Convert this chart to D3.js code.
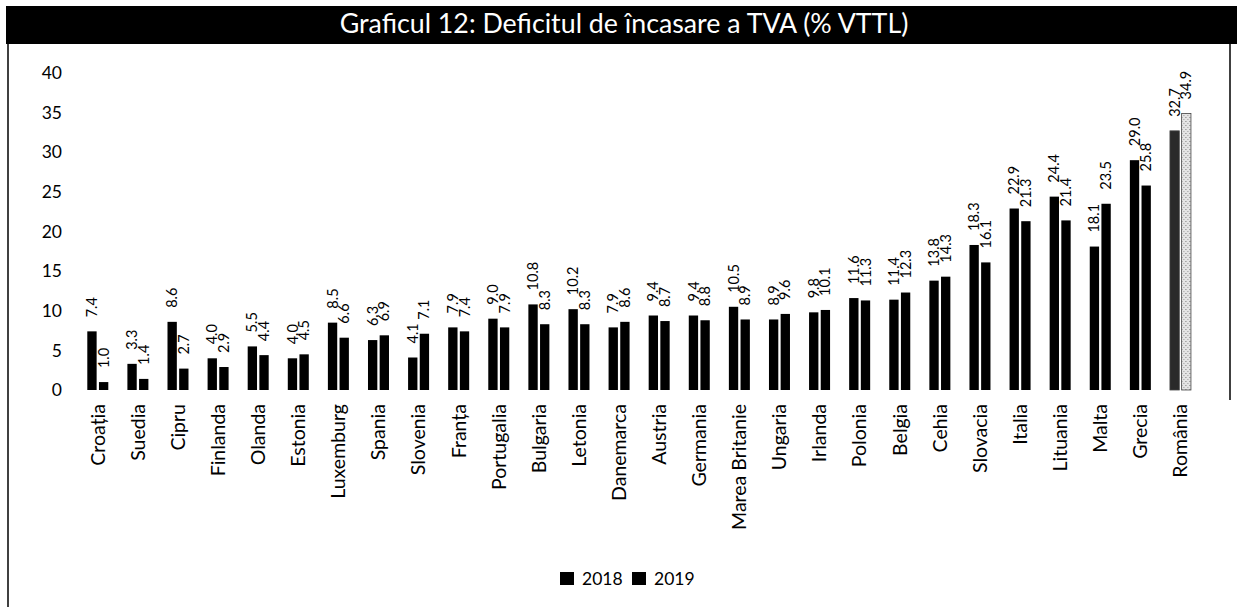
<!DOCTYPE html>
<html>
<head>
<meta charset="utf-8">
<script src="https://cdn.jsdelivr.net/npm/d3@7/dist/d3.min.js"></script>
<style>
  html, body { margin: 0; padding: 0; background: #fff; }
  svg { display: block; }
  text { font-family: Lato, "Open Sans", sans-serif; fill: #000; }
</style>
</head>
<body>
<svg id="chart" width="1237" height="607"></svg>
<script>
const titleText = "Graficul 12: Deficitul de încasare a TVA (% VTTL)";
const categories = ["Croația","Suedia","Cipru","Finlanda","Olanda","Estonia","Luxemburg","Spania","Slovenia","Franța","Portugalia","Bulgaria","Letonia","Danemarca","Austria","Germania","Marea Britanie","Ungaria","Irlanda","Polonia","Belgia","Cehia","Slovacia","Italia","Lituania","Malta","Grecia","România"];
const series = ["2018", "2019"];
const values2018 = [7.4,3.3,8.6,4.0,5.5,4.0,8.5,6.3,4.1,7.9,9.0,10.8,10.2,7.9,9.4,9.4,10.5,8.9,9.8,11.6,11.4,13.8,18.3,22.9,24.4,18.1,29.0,32.7];
const values2019 = [1.0,1.4,2.7,2.9,4.4,4.5,6.6,6.9,7.1,7.4,7.9,8.3,8.3,8.6,8.7,8.8,8.9,9.6,10.1,11.3,12.3,14.3,16.1,21.3,21.4,23.5,25.8,34.9];
const yTicks = [0,5,10,15,20,25,30,35,40];
const highlightCategory = "România";

const svg = d3.select("#chart");

// frame
svg.append("line").attr("x1",8).attr("x2",8).attr("y1",40).attr("y2",607).attr("stroke","#000").attr("stroke-width",1.5);
svg.append("line").attr("x1",1230).attr("x2",1230).attr("y1",40).attr("y2",400).attr("stroke","#000").attr("stroke-width",1.5);

// title bar
svg.append("rect").attr("x",6).attr("y",6).attr("width",1231).attr("height",38).attr("fill","#000");
const title = svg.append("text").attr("x",624).attr("y",33).attr("text-anchor","middle")
  .style("fill","#fff").style("font-size","22px").text(titleText);
{
  const w = title.node().getComputedTextLength();
  const target = 569;
  title.style("font-size", (22*target/w).toFixed(2) + "px");
}

const y = d3.scaleLinear().domain([0,40]).range([390,73]);
const x0 = d3.scaleBand().domain(categories).range([77.75, 1200.5]).paddingInner(0).paddingOuter(0);
const x1 = d3.scaleBand().domain(series).range([x0.bandwidth()/2 - 10.5, x0.bandwidth()/2 + 10.5]).paddingInner(0.2).paddingOuter(0);

// y tick labels
svg.append("g").selectAll("text").data(yTicks).join("text")
  .attr("x", 62).attr("y", d => y(d)).attr("dy","0.35em").attr("text-anchor","end")
  .style("font-size","17.5px").text(d => d);

const rows = categories.map((c,i) => ({cat:c, vals:[{s:"2018",v:values2018[i]},{s:"2019",v:values2019[i]}]}));

const groups = svg.append("g").selectAll("g").data(rows).join("g")
  .attr("transform", d => `translate(${x0(d.cat)},0)`);

// pattern for highlighted bars
const defs = svg.append("defs");
const pat = defs.append("pattern").attr("id","grain").attr("patternUnits","userSpaceOnUse").attr("width",4).attr("height",4);
pat.append("rect").attr("width",4).attr("height",4).attr("fill","#e4e4e4");
pat.append("rect").attr("x",1).attr("y",1).attr("width",1).attr("height",1).attr("fill","#777");
pat.append("rect").attr("x",3).attr("y",3).attr("width",1).attr("height",1).attr("fill","#999");

groups.selectAll("rect").data(d => d.vals.map(v => ({...v, cat:d.cat}))).join("rect")
  .attr("x", d => x1(d.s)).attr("width", x1.bandwidth())
  .attr("y", d => y(d.v)).attr("height", d => y(0) - y(d.v))
  .attr("fill", d => d.cat === highlightCategory ? (d.s === "2018" ? "#2a2a2a" : "url(#grain)") : "#000")
  .attr("stroke", d => d.cat === highlightCategory ? "#444" : "none")
  .attr("stroke-width", 0.8);

// value labels
groups.selectAll("text.val").data(d => d.vals).join("text").attr("class","val")
  .attr("transform", d => `translate(${x1(d.s) + x1.bandwidth()/2},${y(d.v) - 14}) rotate(-90)`)
  .attr("dy","0.35em").attr("text-anchor","start")
  .style("font-size","14.5px").text(d => d.v.toFixed(1));

// category labels
svg.append("g").selectAll("text").data(categories).join("text")
  .attr("transform", d => `translate(${x0(d) + x0.bandwidth()/2},404) rotate(-90)`)
  .attr("dy","0.35em").attr("text-anchor","end")
  .style("font-size","19.5px").text(d => d);

// legend
const legend = svg.append("g");
const legX = [560, 632];
series.forEach((s,i) => {
  legend.append("rect").attr("x", legX[i]).attr("y", 572).attr("width", 14).attr("height", 13).attr("fill","#000");
  legend.append("text").attr("x", legX[i] + 22).attr("y", 578.5).attr("dy","0.35em")
    .style("font-size","17.5px").text(s);
});
</script>
</body>
</html>
